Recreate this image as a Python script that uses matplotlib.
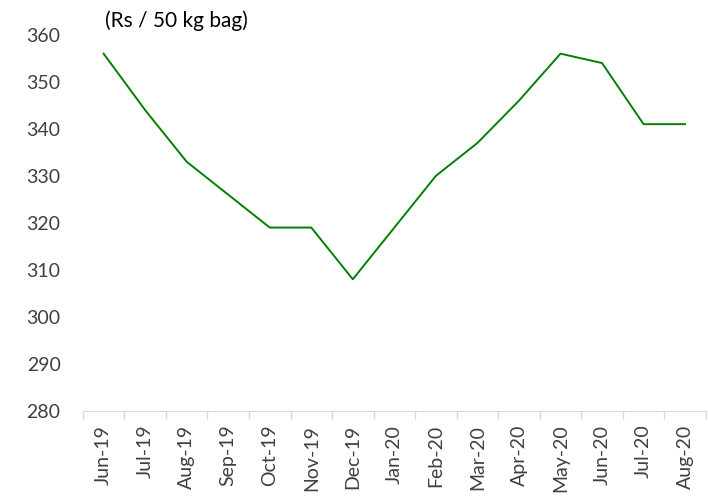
import matplotlib
matplotlib.use("Agg")
import matplotlib.pyplot as plt
import numpy as np

# data
months = ["Jun-19", "Jul-19", "Aug-19", "Sep-19", "Oct-19", "Nov-19", "Dec-19",
          "Jan-20", "Feb-20", "Mar-20", "Apr-20", "May-20", "Jun-20", "Jul-20", "Aug-20"]
price = [356, 344, 333, 326, 319, 319, 308, 319, 330, 337, 346, 356, 354, 341, 341]
yticks = [280, 290, 300, 310, 320, 330, 340, 350, 360]

plt.rcParams['font.family'] = ['Lato', 'DejaVu Sans']

fig = plt.figure(figsize=(7.08, 4.98), dpi=100)
ax = fig.add_axes([0.117, 0.175, 0.880, 0.755])

x = np.arange(len(months))
ax.plot(x, price, color="#008000", linewidth=1.4)

ax.set_xlim(-0.5, len(months) - 0.5)
ax.set_ylim(280, 360)
ax.set_yticks(yticks)
ax.set_yticklabels([str(v) for v in yticks], fontsize=14, color="#404040")
ax.tick_params(axis='y', length=0, pad=16)

ax.set_xticks(x)
ax.set_xticklabels(months, rotation=90, fontsize=14, color="#404040")
ax.set_xticks(np.arange(-0.5, len(months)), minor=True)
ax.tick_params(axis='x', which='major', length=0, pad=10)
ax.tick_params(axis='x', which='minor', length=6, color="#d9d9d9", width=1)

for s in ["top", "right", "left"]:
    ax.spines[s].set_visible(False)
ax.spines["bottom"].set_color("#d9d9d9")

fig.text(0.148, 0.958, "(Rs / 50 kg bag)", fontsize=15, color="black", va="center")

fig.savefig("out.png", dpi=100)
